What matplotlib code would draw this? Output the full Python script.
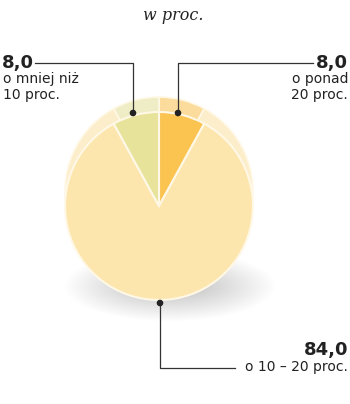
import matplotlib.pyplot as plt
from matplotlib.patches import Ellipse, Circle

# data
labels = ['o ponad\n20 proc.', 'o 10 – 20 proc.', 'o mniej niż\n10 proc.']
values = [8.0, 84.0, 8.0]
value_text = ['8,0', '84,0', '8,0']
colors = ['#fbc350', '#fde6ae', '#e7e39b']
back_colors = ['#fbdc9c', '#fdeecb', '#efedc6']

W, H = 350, 404
fig = plt.figure(figsize=(3.5, 4.04), dpi=100)
ax = fig.add_axes([0, 0, 1, 1])
ax.set_xlim(0, W)
ax.set_ylim(0, H)
ax.set_aspect('equal')
ax.axis('off')

def Y(y):
    return H - y

narrow = ['Liberation Sans Narrow', 'DejaVu Sans']

# shadow under the pie, soft
for i in range(24):
    ax.add_patch(Ellipse((170, Y(286)), 210 - i * 6, 70 - i * 2.2,
                         color='#909090', alpha=0.016, lw=0, zorder=1))

cx, cy, r = 159, Y(206), 94

# back (lighter) layer
ax.pie(values, colors=back_colors, startangle=90, counterclock=False,
       radius=r, center=(cx, cy + 15), frame=True,
       wedgeprops=dict(edgecolor='#fff8e6', linewidth=1.2, zorder=2))
# front layer
wedges, _ = ax.pie(values, colors=colors, startangle=90, counterclock=False,
                   radius=r, center=(cx, cy), frame=True,
                   wedgeprops=dict(edgecolor='#fff8e6', linewidth=1.5))
for w in wedges:
    w.set_zorder(3)
ax.set_xlim(0, W)
ax.set_ylim(0, H)
ax.axis('off')

# title
ax.text(173, Y(20), 'w proc.', ha='center', va='baseline', fontsize=11.5,
        family='DejaVu Serif', style='italic', color='#222222')

lc = '#333333'
# left label
ax.plot([35, 133, 133], [Y(63), Y(63), Y(113)], color=lc, lw=0.9, zorder=5)
ax.add_patch(Circle((133, Y(113)), 2.6, color='#222222', zorder=6))
ax.text(2, Y(68), value_text[2], ha='left', va='baseline', fontsize=13,
        fontweight='bold', family=narrow, color='#222222')
ax.text(3, Y(99), labels[2], ha='left', va='baseline', fontsize=10,
        family=narrow, color='#222222', linespacing=1.15)

# right label
ax.plot([178, 178, 313], [Y(113), Y(63), Y(63)], color=lc, lw=0.9, zorder=5)
ax.add_patch(Circle((178, Y(113)), 2.6, color='#222222', zorder=6))
ax.text(348, Y(68), value_text[0], ha='right', va='baseline', fontsize=13,
        fontweight='bold', family=narrow, color='#222222')
ax.text(348, Y(99), labels[0], ha='right', va='baseline', fontsize=10,
        family=narrow, color='#222222', linespacing=1.15, multialignment='right')

# bottom label
ax.plot([160, 160, 235], [Y(303), Y(368), Y(368)], color=lc, lw=0.9, zorder=5)
ax.add_patch(Circle((160, Y(303)), 2.6, color='#222222', zorder=6))
ax.text(348, Y(355), value_text[1], ha='right', va='baseline', fontsize=13,
        fontweight='bold', family=narrow, color='#222222')
ax.text(348, Y(371), labels[1], ha='right', va='baseline', fontsize=10,
        family=narrow, color='#222222')

fig.savefig('out.png', dpi=100, facecolor='white')
